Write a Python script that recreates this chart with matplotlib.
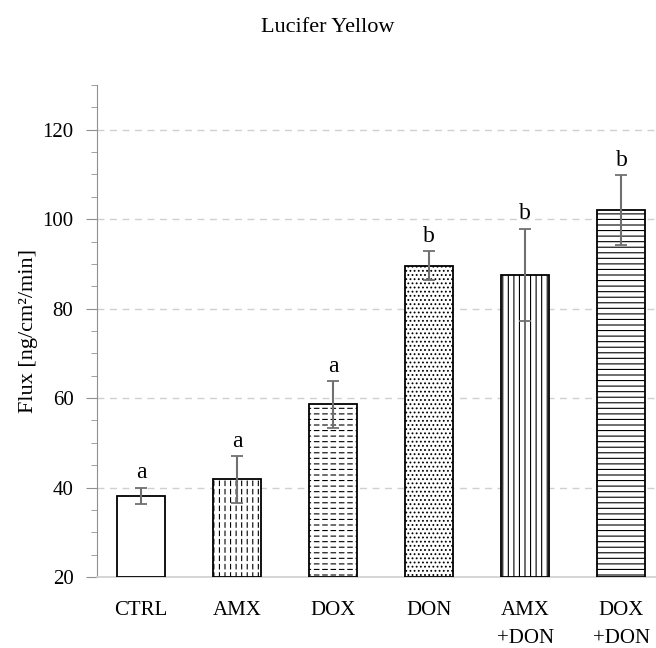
import numpy as np
import matplotlib.pyplot as plt
from matplotlib.ticker import MultipleLocator

# Data
groups = ['CTRL', 'AMX', 'DOX', 'DON', 'AMX\n+DON', 'DOX\n+DON']
flux = [38.2, 41.8, 58.6, 89.6, 87.6, 102.0]
err = [1.8, 5.2, 5.2, 3.2, 10.3, 7.8]
letters = ['a', 'a', 'a', 'b', 'b', 'b']
hatches = ['', '|||', '---', '....', '|||', '---']
# white hatch laid over some bars to break lines into dashes
breakers = ['', '--', '||', '', '', '']

plt.rcParams['font.family'] = ['Liberation Serif', 'DejaVu Serif']
plt.rcParams['hatch.linewidth'] = 0.8

fig = plt.figure(figsize=(6.56, 6.48), dpi=100)
ax = fig.add_axes([97 / 656, 1 - 577 / 648, 1 - 97 / 656, (577 - 85) / 648])

x = np.arange(len(groups))
heights = [v - 20 for v in flux]
ax.bar(x, heights, bottom=20, width=0.5, color='white',
       edgecolor='black', linewidth=0, hatch=hatches, zorder=3)
over = ax.bar(x, heights, bottom=20, width=0.5, fill=False,
              edgecolor='white', linewidth=0, hatch=breakers, zorder=3.2)
for p in over:
    try:
        p.set_hatch_linewidth(2.0)
    except AttributeError:
        pass
ax.bar(x, heights, bottom=20, width=0.5, fill=False,
       edgecolor='black', linewidth=1.3, zorder=3.4)
ax.errorbar(x, flux, yerr=err, fmt='none', ecolor='#707070', elinewidth=1.5,
            capsize=4, capthick=1.3, zorder=4)

for xi, v, e, l in zip(x, flux, err, letters):
    ax.text(xi, v + e + 1.0, l, ha='center', va='bottom', fontsize=17)

ax.set_ylim(20, 130)
ax.set_xlim(-0.46, 5.36)
ax.yaxis.set_minor_locator(MultipleLocator(5))
ax.set_yticks([20, 40, 60, 80, 100, 120])
ax.tick_params(axis='y', which='both', direction='out', color='#909090', labelsize=15)
ax.tick_params(axis='y', which='major', length=8, pad=9)
ax.tick_params(axis='y', which='minor', length=4)
ax.set_xticks(x)
ax.set_xticklabels(groups, fontsize=15, linespacing=1.7, va='top')
ax.tick_params(axis='x', length=0, pad=17)

ax.grid(axis='y', which='major', linestyle=(0, (5, 4)), color='#d0d0d0', linewidth=1, zorder=0)
for s in ['top', 'right']:
    ax.spines[s].set_visible(False)
ax.spines['left'].set_color('#909090')
ax.spines['bottom'].set_color('#d0d0d0')
ax.spines['bottom'].set_linewidth(1.2)

ax.set_ylabel('Flux [ng/cm²/min]', fontsize=16, labelpad=3)
fig.text(0.5, 1 - 28 / 648, 'Lucifer Yellow', ha='center', va='center', fontsize=16)

plt.savefig('out.png', dpi=100)
